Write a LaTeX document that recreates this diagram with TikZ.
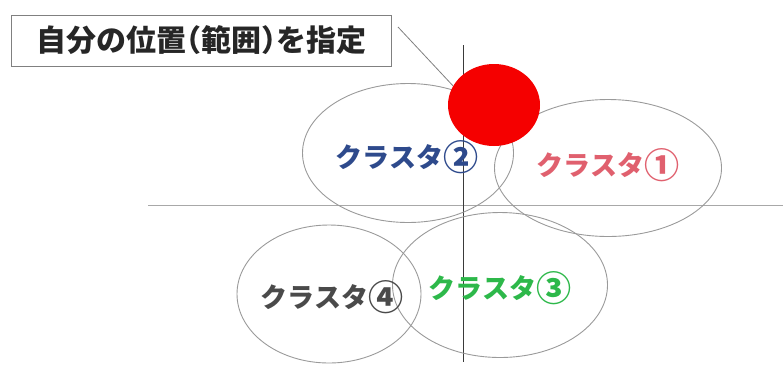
\documentclass[tikz,border=0pt]{standalone}
\usepackage{fontspec}
\usepackage{graphicx}
\newfontfamily\cjk{Noto Sans CJK JP}
\usetikzlibrary{shapes.geometric}
\definecolor{ringgray}{HTML}{9A9A9A}
\definecolor{axisgray}{HTML}{A8A8A8}
\definecolor{axisdark}{HTML}{3A3A3A}
\definecolor{cblue}{HTML}{2E4A8C}
\definecolor{cred}{HTML}{E0606E}
\definecolor{cgreen}{HTML}{2DB84A}
\definecolor{cgray}{HTML}{4A4A4A}
\definecolor{hotred}{HTML}{F50000}
\newcommand{\cdig}[1]{\raisebox{-0.1em}{\scalebox{1.3}{#1}}}
\begin{document}
\begin{tikzpicture}[x=1pt,y=-1pt,
  ring/.style={draw=ringgray, line width=0.9pt, ellipse, inner sep=0pt},
  lbl/.style={font=\cjk\bfseries\fontsize{27}{27}\selectfont, inner sep=0pt},
  boxlbl/.style={draw=gray, line width=0.8pt, fill=white, inner sep=0pt,
     minimum width=380pt, minimum height=51pt,
     font=\cjk\bfseries\fontsize{30}{30}\selectfont, text=black!85}]
\useasboundingbox (0,0) rectangle (783,365);
% axes
\coordinate (h1) at (148,205);
\coordinate (h2) at (783,205);
\coordinate (v1) at (463,45);
\coordinate (v2) at (463,362);
\draw[axisgray, line width=1pt] (h1) -- (h2);
\draw[axisdark, line width=0.9pt] (v1) -- (v2);
% cluster rings
\node[ring, minimum width=211pt, minimum height=139pt] (c2) at (408,153) {};
\node[ring, minimum width=227pt, minimum height=137pt] (c1) at (608,168) {};
\node[ring, minimum width=184pt, minimum height=138pt] (c4) at (329,294) {};
\node[ring, minimum width=215pt, minimum height=145pt] (c3) at (500,285) {};
% own position
\node[ellipse, fill=hotred, inner sep=0pt, minimum width=92pt, minimum height=82pt] (red) at (494,105) {};
% labels
\node[lbl, text=cblue] (l2) at (407,157) {クラスタ\cdig{②}};
\node[lbl, text=cred] (l1) at (608,165) {クラスタ\cdig{①}};
\node[lbl, text=cgray] (l4) at (332,297) {クラスタ\cdig{④}};
\node[lbl, text=cgreen] (l3) at (500,288) {クラスタ\cdig{③}};
% callout box
\node[boxlbl] (box) at (201,40.5) {自分の位置\makebox[0.5em][r]{（}範囲\makebox[0.5em][l]{）}を指定};
\coordinate (cs) at (398,27);
\draw[gray, line width=0.8pt] (cs) -- (red.155);
\end{tikzpicture}
\end{document}
